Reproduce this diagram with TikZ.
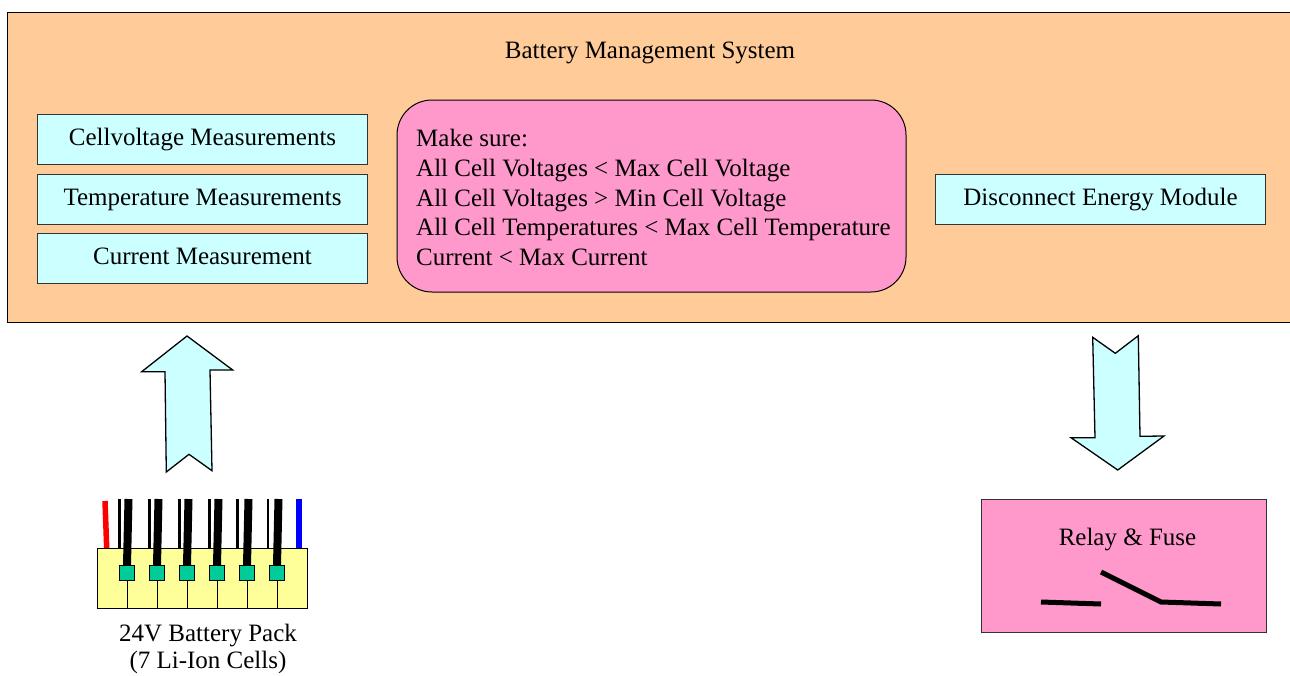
\documentclass[tikz,border=0pt]{standalone}
\usepackage{fontspec}
\setmainfont{Liberation Serif}
\tikzset{
  measbox/.style={draw=black!80,fill=measblue,line width=1pt,minimum width=330pt,minimum height=50pt,inner sep=0pt,text height=17pt,text depth=5pt,font=\fontsize{25}{29}\selectfont},
  measlabel/.style={inner sep=0pt,font=\fontsize{25}{29}\selectfont},
  bigarrow/.style={draw=black,fill=measblue,line width=1.3pt,miter limit=10},
  cellbox/.style={draw=black,fill=cellgreen,line width=1pt,minimum size=15pt,inner sep=0pt},
}
\definecolor{sysorange}{HTML}{FFCC99}
\definecolor{measblue}{HTML}{CCFFFF}
\definecolor{checkpink}{HTML}{FF99CC}
\definecolor{packyellow}{HTML}{FFFF99}
\definecolor{cellgreen}{HTML}{00CC99}
\begin{document}
\begin{tikzpicture}[x=1pt,y=-1pt]
\useasboundingbox (0,0) rectangle (1290,675);
% System frame runs off the right edge
\begin{scope}
\clip (0,0) rectangle (1290,675);
\draw[fill=sysorange,line width=1pt] (7.5,12) rectangle (1295,322);
\end{scope}
\node[measlabel] (title) at (650,53) {Battery Management System};
% Measurement boxes and output box
\node[measbox] (cellvolt) at (202.5,139.5) {Cellvoltage Measurements};
\node[measbox] (temp) at (202.5,199) {Temperature Measurements};
\node[measbox] (current) at (202.5,258) {Current Measurement};
\node[measbox] (disconnect) at (1100.5,199) {Disconnect Energy Module};
% Rules in the middle
\draw[fill=checkpink,line width=1pt,rounded corners=35pt] (397,100) rectangle (906,292);
\node[measlabel,anchor=west,align=left,font=\fontsize{25}{29.8}\selectfont] (rules) at (416,197.5) {Make sure:\\
All Cell Voltages < Max Cell Voltage\\
All Cell Voltages > Min Cell Voltage\\
All Cell Temperatures < Max Cell Temperature\\
Current < Max Current};
% Two big arrows
\draw[bigarrow] (187,336) -- (232.7,370) -- (210,370) -- (212,470.7) -- (189,454.3)
  -- (166.3,472) -- (165,371.7) -- (141.7,371.7) -- cycle;
\draw[bigarrow] (1092.7,337.3) -- (1115.3,353.3) -- (1138.3,335.7) -- (1140,436.3)
  -- (1164,436) -- (1117.7,470) -- (1071,437.7) -- (1095,437.7) -- cycle;
% Battery pack
\draw[fill=packyellow,line width=1pt] (97,548) rectangle (307,608);
\draw[red,line width=5.5pt] (105,501) -- (106.7,548);
\draw[blue,line width=6pt] (299.3,499) -- (299.3,548);
\foreach \i/\tx in {1/119.7,2/149.3,3/179.3,4/209.3,5/237.5,6/268} {
  \pgfmathsetmacro{\cx}{97+30*\i}
  \node[cellbox] (cell\i) at (\cx,573) {};
  \draw[line width=1pt] (cell\i.south) -- (\cx,608);
  \draw[line width=2.5pt] (\tx,499) -- (\tx,548);
  \draw[line width=8pt] (\cx+1.5,499) -- (cell\i.north);
}
\node[measlabel,anchor=south,align=center,font=\fontsize{25}{27}\selectfont] (pack) at (208,674.5) {24V Battery Pack\\(7 Li-Ion Cells)};
% Relay
\draw[fill=checkpink,draw=black!80,line width=1pt] (981,499) rectangle (1266,632);
\node[measlabel] (relay) at (1127.5,539.5) {Relay \& Fuse};
\draw[line width=5pt] (1041,602) -- (1101,604);
\draw[line width=5pt,line join=miter] (1101,572) -- (1161,602) -- (1221,604);
\end{tikzpicture}
\end{document}
